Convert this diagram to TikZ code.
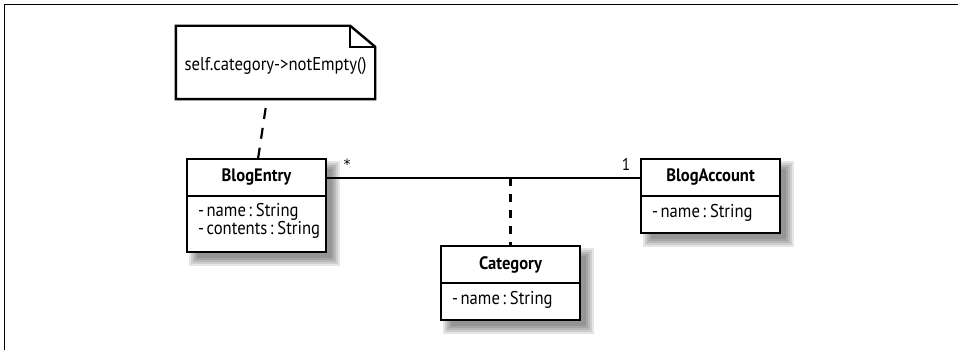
\documentclass[tikz,border=0pt]{standalone}
\usepackage{fontspec}
\setmainfont{PT Sans}[FakeStretch=0.9, WordSpace=0.55, BoldFeatures={FakeStretch=0.92}]
\newfontfamily\starfont{DejaVu Sans}
\usetikzlibrary{calc,backgrounds}
\begin{document}
\begin{tikzpicture}[x=1pt,y=-1pt,
  box/.style={draw, line width=2.4pt, fill=white, inner sep=0pt, outer sep=0pt, minimum width=139pt},
  classtitle/.style={box, minimum height=37pt, font=\fontsize{18}{20}\selectfont\bfseries},
  classattrs/.style={box, anchor=north},
  attrtext/.style={anchor=west, inner sep=0pt, align=left, font=\fontsize{18.5}{18}\selectfont},
  assoc/.style={line width=2pt},
  mult/.style={inner sep=0pt, font=\fontsize{17}{17}\selectfont},
  shadowlayer/.style={fill=black, opacity=0.1}
]
\useasboundingbox (0,0) rectangle (958,350);
% frame
\draw[line width=1.2pt] (4.7,350) -- (4.7,4.7) -- (958,4.7);

% classes
\node[classtitle] (beT) at (256.5,177.5) {BlogEntry};
\node[classattrs, minimum height=56pt] (beA) at (beT.south) {};
\node[attrtext] (beAt) at ($(beA.west)+(11,-3)$) {- name : String\\- contents : String};

\node[classtitle] (baT) at (710.5,177.5) {BlogAccount};
\node[classattrs, minimum height=37pt] (baA) at (baT.south) {};
\node[attrtext] (baAt) at ($(baA.west)+(11,-2)$) {- name : String};

\node[classtitle] (caT) at (510.5,264.5) {Category};
\node[classattrs, minimum height=37pt] (caA) at (caT.south) {};
\node[attrtext] (caAt) at ($(caA.west)+(11,-2)$) {- name : String};

% shadows
\begin{pgfonlayer}{background}
\foreach \t/\a in {beT/beA, baT/baA, caT/caA} {
  \foreach \r in {6,4,2,0,-2} {
    \fill[shadowlayer] ($(\t.north west)+(8-\r,8-\r)$) rectangle ($(\a.south east)+(8+\r,8+\r)$);
  }
}
\end{pgfonlayer}

% note
\node[inner sep=0pt, minimum width=199pt, minimum height=73pt, font=\fontsize{18.5}{20}\selectfont, text depth=0pt] (note) at (275.5,64) {self.category->notEmpty()};
\draw[line width=2.4pt, line join=miter]
  ($(note.south west)+(0,-1.5)$) -- ($(note.north west)+(0,-1.5)$) -- ($(note.north east)+(-25,-1.5)$)
  -- ($(note.north east)+(0,19.5)$) -- ($(note.south east)+(0,-1.5)$) -- cycle;
\draw[line width=2.4pt, line join=miter]
  ($(note.north east)+(-25,-1.5)$) -- ($(note.north east)+(-25,19.5)$) -- ($(note.north east)+(0,19.5)$);

% connectors
\draw[line width=2.2pt, dash pattern=on 11pt off 9pt, dash phase=11pt]
  ($(note.south)+(-8.5,-1.5)$) -- ($(beT.north)+(1.5,0)$);
\draw[assoc] (beT.east) -- (baT.west);
\draw[line width=2.2pt, dash pattern=on 8pt off 8pt] (caT.north |- beT.east) -- (caT.north);

% multiplicities
\node[mult, font=\fontsize{14}{14}\selectfont\starfont] (mstar) at (347,164) {*};
\node[mult] (mone) at (626,164) {1};
\end{tikzpicture}
\end{document}
